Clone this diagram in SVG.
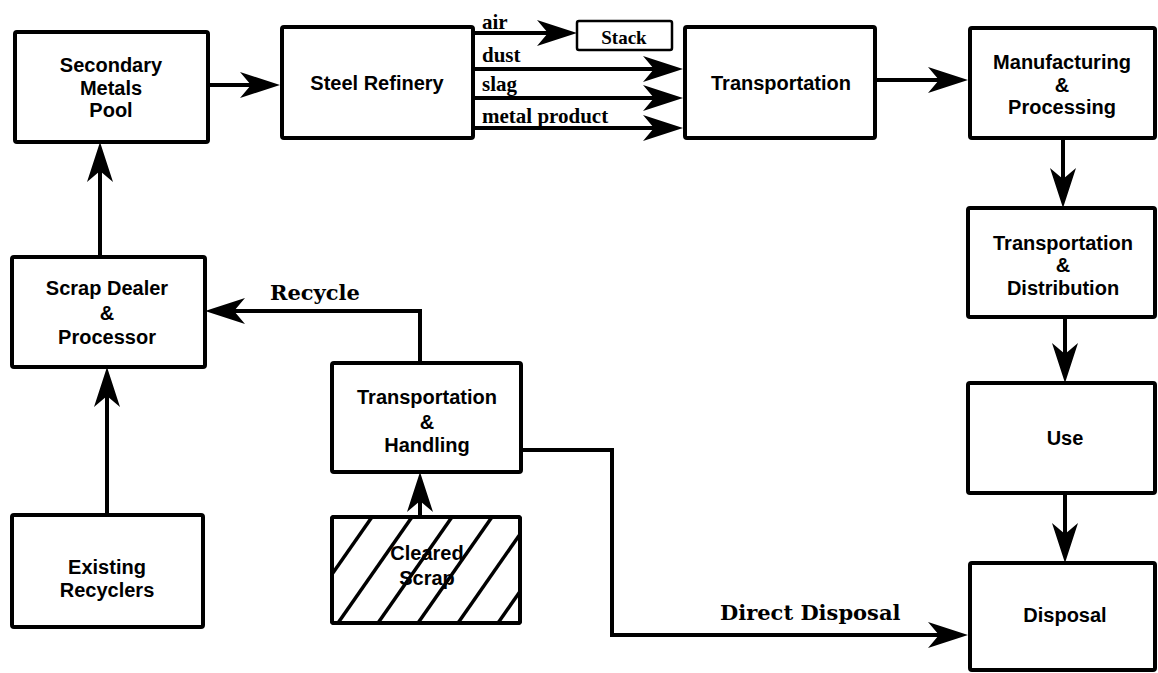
<svg xmlns="http://www.w3.org/2000/svg" width="1158" height="673" viewBox="0 0 1158 673">
<style>
.box{fill:#fff;stroke:#000;stroke-width:4}
.thin{fill:#fff;stroke:#000;stroke-width:2.5}
.t{font-family:"Liberation Sans",Arial,sans-serif;font-weight:bold;font-size:20px;text-anchor:middle;fill:#000}
.s{font-family:"Liberation Serif","Times New Roman",serif;font-weight:bold;font-size:21px;fill:#000}
.r{font-family:"DejaVu Serif",serif;font-weight:bold;font-size:21px;fill:#000}
.c{fill:none;stroke:#000;stroke-width:4;marker-end:url(#ah)}
.h{stroke:#000;stroke-width:3.5}
</style>
<defs>
<marker id="ah" markerUnits="userSpaceOnUse" viewBox="-16 -14 42 28" markerWidth="42" markerHeight="28" refX="0" refY="0" orient="auto">
<path d="M25,0 L-15,-13 L-4,0 L-15,13 Z" fill="#000"/>
</marker>
<clipPath id="cs"><rect x="332" y="517" width="188" height="106"/></clipPath>
</defs>
<rect width="1158" height="673" fill="#fff"/>
<g id="connectors">
<line class="c" x1="208" y1="85" x2="255" y2="85"/>
<line class="c" x1="473" y1="33" x2="552" y2="33"/>
<line class="c" x1="473" y1="69" x2="658" y2="69"/>
<line class="c" x1="473" y1="98" x2="658" y2="98"/>
<line class="c" x1="473" y1="128" x2="658" y2="128"/>
<line class="c" x1="875" y1="80" x2="943" y2="80"/>
<line class="c" x1="1063" y1="138" x2="1063" y2="183"/>
<line class="c" x1="1065" y1="317" x2="1065" y2="358"/>
<line class="c" x1="1065" y1="493" x2="1065" y2="538"/>
<line class="c" x1="100" y1="257" x2="100" y2="167"/>
<line class="c" x1="107" y1="515" x2="107" y2="392"/>
<polyline class="c" points="420,363 420,311 230,311"/>
<line class="c" x1="420" y1="517" x2="420" y2="497"/>
<polyline class="c" points="521,450 612,450 612,635 943,635"/>
<text class="s" x="482" y="29">air</text>
<text class="s" x="482" y="62">dust</text>
<text class="s" x="482" y="91">slag</text>
<text class="s" x="482" y="123">metal product</text>
<text class="r" x="270" y="300">Recycle</text>
<text class="r" x="720" y="620">Direct Disposal</text>
</g>
<g id="smp"><rect class="box" x="15" y="32" width="193" height="110" rx="2"/>
<text class="t" x="111" y="72">Secondary</text><text class="t" x="111" y="95">Metals</text><text class="t" x="111" y="117">Pool</text></g>
<g id="steel"><rect class="box" x="282" y="27" width="191" height="111" rx="2"/>
<text class="t" x="377" y="90">Steel Refinery</text></g>
<g id="stack"><rect class="thin" x="577" y="21" width="95" height="29" rx="2"/>
<text class="s" x="624" y="44" text-anchor="middle" style="font-size:19px">Stack</text></g>
<g id="transport"><rect class="box" x="685" y="27" width="190" height="111" rx="2"/>
<text class="t" x="781" y="90">Transportation</text></g>
<g id="manuf"><rect class="box" x="970" y="28" width="185" height="110" rx="2"/>
<text class="t" x="1062" y="69">Manufacturing</text><text class="t" x="1062" y="92">&amp;</text><text class="t" x="1062" y="114">Processing</text></g>
<g id="tdist"><rect class="box" x="968" y="208" width="187" height="109" rx="2"/>
<text class="t" x="1063" y="250">Transportation</text><text class="t" x="1063" y="272">&amp;</text><text class="t" x="1063" y="295">Distribution</text></g>
<g id="use"><rect class="box" x="968" y="383" width="187" height="110" rx="2"/>
<text class="t" x="1065" y="445">Use</text></g>
<g id="disposal"><rect class="box" x="970" y="563" width="185" height="107" rx="2"/>
<text class="t" x="1065" y="622">Disposal</text></g>
<g id="scrap"><rect class="box" x="12" y="257" width="193" height="110" rx="2"/>
<text class="t" x="107" y="295">Scrap Dealer</text><text class="t" x="107" y="320">&amp;</text><text class="t" x="107" y="344">Processor</text></g>
<g id="handling"><rect class="box" x="332" y="363" width="189" height="109" rx="2"/>
<text class="t" x="427" y="404">Transportation</text><text class="t" x="427" y="429">&amp;</text><text class="t" x="427" y="452">Handling</text></g>
<g id="existing"><rect class="box" x="12" y="515" width="191" height="112" rx="2"/>
<text class="t" x="107" y="574">Existing</text><text class="t" x="107" y="597">Recyclers</text></g>
<g id="cleared"><rect class="box" x="332" y="517" width="188" height="106" rx="2"/>
<g clip-path="url(#cs)">
<line class="h" x1="258" y1="623" x2="332" y2="517"/>
<line class="h" x1="298" y1="623" x2="372" y2="517"/>
<line class="h" x1="338" y1="623" x2="412" y2="517"/>
<line class="h" x1="378" y1="623" x2="452" y2="517"/>
<line class="h" x1="418" y1="623" x2="492" y2="517"/>
<line class="h" x1="458" y1="623" x2="532" y2="517"/>
<line class="h" x1="498" y1="623" x2="572" y2="517"/>
</g>
<rect x="332" y="517" width="188" height="106" rx="2" fill="none" stroke="#000" stroke-width="4"/>
<text class="t" x="427" y="560">Cleared</text><text class="t" x="427" y="585">Scrap</text></g>
</svg>
